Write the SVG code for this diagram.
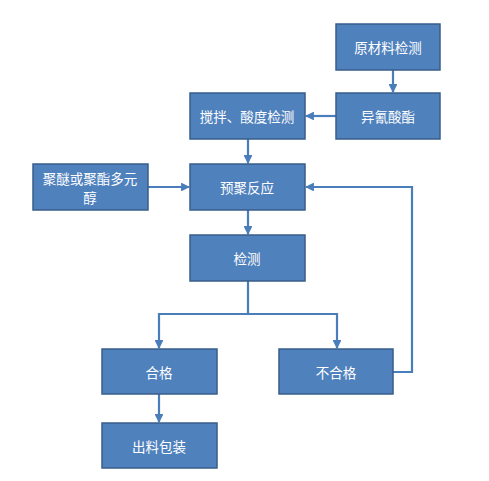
<svg xmlns="http://www.w3.org/2000/svg" width="489" height="481" viewBox="0 0 489 481">
<defs>
<style>
.n{fill:#4F81BD;stroke:#385D8A;stroke-width:1.5}
.t{fill:#FFFFFF;font-family:"Noto Sans CJK SC","Liberation Serif",serif;font-size:13.5px;text-anchor:middle;dominant-baseline:central}
.c{fill:none;stroke:#4A7EBB;stroke-width:2.2}
</style>
<marker id="a" viewBox="0 0 10 10" refX="9" refY="5" markerWidth="4" markerHeight="4" orient="auto" markerUnits="strokeWidth">
<path d="M0,0 L10,5 L0,10 z" fill="#4A7EBB"/>
</marker>
</defs>
<rect width="489" height="481" fill="#FFFFFF"/>
<g id="connectors">
<line class="c" x1="393" y1="70" x2="393" y2="92" marker-end="url(#a)"/>
<line class="c" x1="336" y1="116" x2="306" y2="116" marker-end="url(#a)"/>
<line class="c" x1="248" y1="139" x2="248" y2="163" marker-end="url(#a)"/>
<line class="c" x1="148" y1="187" x2="189" y2="187" marker-end="url(#a)"/>
<line class="c" x1="248" y1="210" x2="248" y2="234" marker-end="url(#a)"/>
<polyline class="c" points="248,281 248,314 159,314 159,348" marker-end="url(#a)"/>
<polyline class="c" points="248,314 337,314 337,348" marker-end="url(#a)"/>
<polyline class="c" points="393,372 412,372 412,187 306,187" marker-end="url(#a)"/>
<line class="c" x1="159" y1="394" x2="159" y2="422" marker-end="url(#a)"/>
</g>
<g id="n1"><rect class="n" x="336" y="24" width="104" height="46"/><text class="t" x="388" y="47">原材料检测</text></g>
<g id="n2"><rect class="n" x="336" y="93" width="104" height="46"/><text class="t" x="388" y="116">异氰酸酯</text></g>
<g id="n3"><rect class="n" x="190" y="93" width="115" height="46"/><text class="t" x="247" y="116">搅拌、酸度检测</text></g>
<g id="n4"><rect class="n" x="33" y="164" width="115" height="46"/><text class="t" x="90" y="178">聚醚或聚酯多元</text><text class="t" x="90" y="197">醇</text></g>
<g id="n5"><rect class="n" x="190" y="164" width="115" height="46"/><text class="t" x="247" y="187">预聚反应</text></g>
<g id="n6"><rect class="n" x="190" y="235" width="115" height="46"/><text class="t" x="247" y="258">检测</text></g>
<g id="n7"><rect class="n" x="102" y="349" width="115" height="45"/><text class="t" x="159" y="372">合格</text></g>
<g id="n8"><rect class="n" x="279" y="349" width="114" height="45"/><text class="t" x="336" y="372">不合格</text></g>
<g id="n9"><rect class="n" x="102" y="423" width="115" height="45"/><text class="t" x="159" y="446">出料包装</text></g>
</svg>
